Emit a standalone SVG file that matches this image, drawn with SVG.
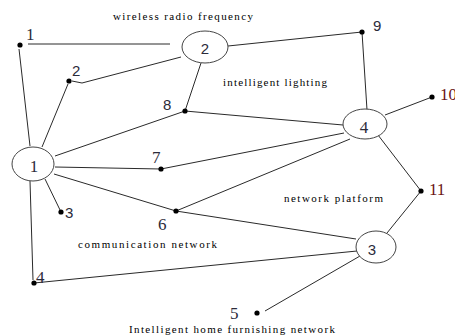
<svg xmlns="http://www.w3.org/2000/svg" width="455" height="336" viewBox="0 0 455 336">
<style>
.e{stroke:#2a2a2a;stroke-width:1;fill:none}
.c{fill:#fff;stroke:#444;stroke-width:1}
.d{fill:#000}
.n{font-family:"Liberation Serif",serif;font-size:17px;fill:#2b2b3a}
.s{font-family:"Liberation Sans",sans-serif;font-size:15px;fill:#2b2b3a}
.r{fill:#6a1414}
.t{font-family:"Liberation Serif",serif;font-size:11px;fill:#000}
</style>
<rect width="455" height="336" fill="#fff"/>
<g id="connectors">
<line class="e" x1="28" y1="44" x2="170" y2="44"/>
<line class="e" x1="19" y1="49" x2="30" y2="146"/>
<line class="e" x1="68" y1="84" x2="42" y2="147"/>
<polyline class="e" points="72,81 82,83 181,57"/>
<line class="e" x1="201" y1="63" x2="185" y2="111"/>
<line class="e" x1="185" y1="111" x2="343" y2="125"/>
<line class="e" x1="55" y1="156" x2="185" y2="111"/>
<line class="e" x1="55" y1="167" x2="161" y2="169"/>
<line class="e" x1="161" y1="169" x2="344" y2="133"/>
<line class="e" x1="54" y1="174" x2="176" y2="211"/>
<line class="e" x1="176" y1="211" x2="350" y2="139"/>
<line class="e" x1="176" y1="211" x2="356" y2="239"/>
<line class="e" x1="45" y1="179" x2="61" y2="212"/>
<line class="e" x1="30" y1="181" x2="33" y2="280"/>
<line class="e" x1="34" y1="283" x2="357" y2="251"/>
<line class="e" x1="360" y1="256" x2="265" y2="311"/>
<line class="e" x1="387" y1="233" x2="421" y2="191"/>
<line class="e" x1="378" y1="135" x2="421" y2="191"/>
<line class="e" x1="385" y1="115" x2="432" y2="97"/>
<line class="e" x1="367" y1="110" x2="362" y2="32"/>
<line class="e" x1="228" y1="46" x2="362" y2="32"/>
</g>
<g id="hub2"><ellipse class="c" cx="205" cy="47" rx="23" ry="16"/><text class="s" x="205" y="54" text-anchor="middle">2</text></g>
<g id="hub4"><ellipse class="c" cx="365" cy="124" rx="22" ry="15"/><text class="n" x="364" y="133" text-anchor="middle">4</text></g>
<g id="hub1"><ellipse class="c" cx="33" cy="164" rx="21" ry="17"/><text class="n" x="34" y="172" text-anchor="middle">1</text></g>
<g id="hub3"><ellipse class="c" cx="376" cy="247" rx="20" ry="16"/><text class="s" x="372" y="255" text-anchor="middle">3</text></g>
<g id="p1"><circle class="d" cx="20" cy="45" r="2.6"/><text class="n" x="26" y="40">1</text></g>
<g id="p2"><circle class="d" cx="69" cy="81" r="2.6"/><text class="s" x="72" y="76">2</text></g>
<g id="p3"><circle class="d" cx="61" cy="212" r="2.6"/><text class="s" x="65" y="218">3</text></g>
<g id="p4"><circle class="d" cx="34" cy="283" r="2.6"/><text class="n" x="36" y="283">4</text></g>
<g id="p5"><circle class="d" cx="257" cy="313" r="2.6"/><text class="n" x="230" y="319">5</text></g>
<g id="p6"><circle class="d" cx="176" cy="211" r="2.6"/><text class="n" x="158" y="230">6</text></g>
<g id="p7"><circle class="d" cx="161" cy="169" r="2.6"/><text class="n" x="152" y="163">7</text></g>
<g id="p8"><circle class="d" cx="185" cy="111" r="2.6"/><text class="s" x="163" y="110">8</text></g>
<g id="p9"><circle class="d" cx="362" cy="32" r="2.6"/><text class="s" x="373" y="31">9</text></g>
<g id="p10"><circle class="d" cx="432" cy="97" r="2.6"/><text class="n r" x="440" y="100">10</text></g>
<g id="p11"><circle class="d" cx="421" cy="191" r="2.6"/><text class="n r" x="429" y="195">11</text></g>
<g id="labels">
<text class="t" x="113" y="20" textLength="140" lengthAdjust="spacing">wireless radio frequency</text>
<text class="t" x="223" y="86" textLength="104" lengthAdjust="spacing">intelligent lighting</text>
<text class="t" x="284" y="202" textLength="99" lengthAdjust="spacing">network platform</text>
<text class="t" x="78" y="248" textLength="139" lengthAdjust="spacing">communication network</text>
<text class="t" x="129" y="333" textLength="206" lengthAdjust="spacing">Intelligent home furnishing network</text>
</g>
</svg>
